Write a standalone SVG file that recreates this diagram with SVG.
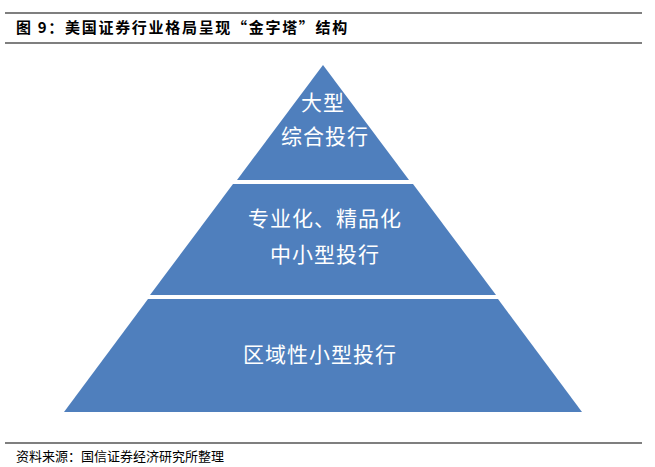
<svg xmlns="http://www.w3.org/2000/svg" width="655" height="467" viewBox="0 0 655 467">
<style>
.rule{stroke:#000;stroke-width:1.2}
.tier{fill:#4F7FBD}
.lbl{font-family:"Noto Sans CJK SC",sans-serif;font-size:21px;fill:#fff;text-anchor:middle;letter-spacing:1px}
.title{font-family:"Noto Sans CJK SC",sans-serif;font-size:15px;font-weight:bold;fill:#000;letter-spacing:1.7px}
.src{font-family:"Noto Sans CJK SC",sans-serif;font-size:13px;fill:#000}
</style>
<rect width="655" height="467" fill="#fff"/>
<g id="header">
<line class="rule" x1="5" y1="13" x2="642" y2="13"/>
<text class="title" x="16" y="33">图 9：美国证券行业格局呈现“金字塔”结构</text>
<line class="rule" x1="5" y1="43" x2="642" y2="43"/>
</g>
<g id="tier-top">
<polygon class="tier" points="323,65 409,180 237,180"/>
<text class="lbl" x="323" y="110">大型</text>
<text class="lbl" x="325" y="144">综合投行</text>
</g>
<g id="tier-middle">
<polygon class="tier" points="233,184 413,184 496,295 150,295"/>
<text class="lbl" x="325" y="226">专业化、精品化</text>
<text class="lbl" x="325" y="262">中小型投行</text>
</g>
<g id="tier-bottom">
<polygon class="tier" points="148,299 498,299 582,412 64,412"/>
<text class="lbl" x="320" y="362">区域性小型投行</text>
</g>
<g id="connectors"></g>
<g id="footer">
<line class="rule" x1="5" y1="443" x2="642" y2="443"/>
<text class="src" x="16" y="461">资料来源：国信证券经济研究所整理</text>
</g>
</svg>
